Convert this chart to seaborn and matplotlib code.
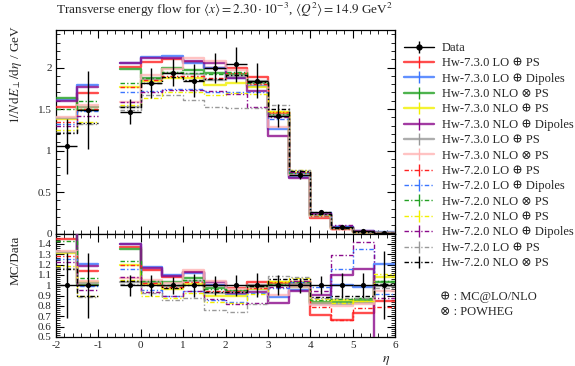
import numpy as np
import pandas as pd
import matplotlib
matplotlib.use("Agg")
import matplotlib.pyplot as plt
from matplotlib.lines import Line2D
from matplotlib.ticker import MultipleLocator, FixedLocator, FixedFormatter
import seaborn as sns

# ---- binning (pseudorapidity) ----
bin_lo = [-2.0, -1.5, -0.5, 0.0, 0.5, 1.0, 1.5, 2.0, 2.5, 3.0, 3.5, 4.0, 4.5, 5.0, 5.5]
bin_hi = [-1.5, -1.0, 0.0, 0.5, 1.0, 1.5, 2.0, 2.5, 3.0, 3.5, 4.0, 4.5, 5.0, 5.5, 6.0]

# ---- measurement ----
data_val = [1.05, 1.49, 1.47, 1.81, 1.94, 1.84, 1.99, 2.04, 1.84, 1.42, 0.71, 0.26, 0.075, 0.025, 0.010]
data_err = [0.33, 0.47, 0.15, 0.18, 0.16, 0.20, 0.18, 0.21, 0.21, 0.14, 0.05, 0.023, 0.009, 0.003, 0.0033]

# ---- generator predictions ----
hw73_lo_ps      = [1.52, 1.69, 2.01, 2.07, 2.10, 2.07, 2.00, 1.99, 1.89, 1.45, 0.72, 0.185, 0.050, 0.0183, 0.0085]
hw73_lo_dip     = [1.61, 1.79, 2.06, 2.13, 2.14, 2.05, 1.99, 1.87, 1.78, 1.26, 0.68, 0.212, 0.075, 0.0245, 0.0121]
hw73_nlo_pw_ps  = [1.63, 1.49, 1.98, 1.87, 2.00, 1.97, 1.93, 1.92, 1.81, 1.42, 0.70, 0.218, 0.063, 0.0215, 0.0103]
hw73_nlo_ps     = [1.38, 1.53, 1.76, 1.84, 1.87, 1.87, 1.79, 1.82, 1.77, 1.47, 0.73, 0.215, 0.064, 0.0210, 0.0108]
hw73_nlo_dip    = [1.60, 1.76, 2.05, 2.12, 2.12, 2.08, 2.05, 1.88, 1.72, 1.17, 0.67, 0.235, 0.0825, 0.0290, 0.0030]
hw73_lo_ps_b    = [1.39, 1.52, 1.52, 1.86, 1.93, 1.92, 1.85, 1.90, 1.84, 1.43, 0.72, 0.215, 0.0615, 0.0208, 0.0099]
hw73_nlo_pw_b   = [1.40, 1.55, 1.58, 1.91, 1.98, 2.11, 2.08, 1.97, 1.80, 1.28, 0.70, 0.210, 0.060, 0.0205, 0.0094]
hw72_lo_ps      = [1.35, 1.50, 1.76, 1.85, 1.90, 1.90, 1.88, 1.93, 1.80, 1.46, 0.74, 0.205, 0.050, 0.0195, 0.0079]
hw72_lo_dip     = [1.32, 1.48, 1.70, 1.72, 1.74, 1.74, 1.71, 1.71, 1.70, 1.38, 0.73, 0.255, 0.087, 0.0338, 0.0092]
hw72_nlo_pw_ps  = [1.50, 1.60, 1.82, 1.88, 1.95, 1.93, 1.92, 1.95, 1.82, 1.44, 0.73, 0.222, 0.065, 0.0220, 0.0104]
hw72_nlo_ps     = [1.25, 1.34, 1.55, 1.63, 1.71, 1.71, 1.67, 1.69, 1.68, 1.48, 0.76, 0.225, 0.062, 0.0213, 0.0111]
hw72_nlo_dip    = [1.29, 1.42, 1.59, 1.70, 1.73, 1.73, 1.72, 1.68, 1.52, 1.40, 0.74, 0.245, 0.097, 0.0355, 0.0088]
hw72_lo_ps_b    = [1.22, 1.32, 1.49, 1.67, 1.67, 1.61, 1.52, 1.51, 1.51, 1.55, 0.77, 0.228, 0.066, 0.0218, 0.0097]
hw72_nlo_pw_b   = [1.21, 1.33, 1.53, 1.82, 1.89, 1.85, 1.86, 1.91, 1.83, 1.50, 0.75, 0.230, 0.067, 0.0225, 0.0101]

OP = "\u2295"
OT = "\u2297"
series_labels = [
    f"Hw-7.3.0 LO {OP} PS", f"Hw-7.3.0 LO {OP} Dipoles", f"Hw-7.3.0 NLO {OT} PS",
    f"Hw-7.3.0 NLO {OP} PS", f"Hw-7.3.0 NLO {OP} Dipoles", f"Hw-7.3.0 LO {OP} PS ",
    f"Hw-7.3.0 NLO {OT} PS ",
    f"Hw-7.2.0 LO {OP} PS", f"Hw-7.2.0 LO {OP} Dipoles", f"Hw-7.2.0 NLO {OT} PS",
    f"Hw-7.2.0 NLO {OP} PS", f"Hw-7.2.0 NLO {OP} Dipoles", f"Hw-7.2.0 LO {OP} PS ",
    f"Hw-7.2.0 NLO {OT} PS ",
]
series_values = [hw73_lo_ps, hw73_lo_dip, hw73_nlo_pw_ps, hw73_nlo_ps, hw73_nlo_dip,
                 hw73_lo_ps_b, hw73_nlo_pw_b,
                 hw72_lo_ps, hw72_lo_dip, hw72_nlo_pw_ps, hw72_nlo_ps, hw72_nlo_dip,
                 hw72_lo_ps_b, hw72_nlo_pw_b]
series_colors = ["#ff2020", "#3a75ff", "#22a022", "#f2f000", "#8b0a8b", "#999999", "#ffb4b4",
                 "#ff2020", "#3a75ff", "#22a022", "#f2f000", "#8b0a8b", "#999999", "#000000"]
series_solid = [True] * 7 + [False] * 7

DASHDOT = (3.2, 1.6, 0.9, 1.6)


def step_frame(values_by_series):
    """Long-form table of step vertices; contiguous bins share a segment id."""
    rows = []
    for label, vals in values_by_series:
        seg = 0
        start = 0
        n = len(bin_lo)
        for i in range(n):
            last = (i == n - 1) or (bin_hi[i] != bin_lo[i + 1])
            if last:
                for j in range(start, i + 1):
                    rows.append((label, seg, bin_lo[j], vals[j]))
                rows.append((label, seg, bin_hi[i], vals[i]))
                seg += 1
                start = i + 1
    return pd.DataFrame(rows, columns=["series", "seg", "eta", "val"])


sns.set_theme(style="ticks")
plt.rcParams["font.family"] = ["Liberation Serif", "DejaVu Serif"]
plt.rcParams["mathtext.fontset"] = "stix"
plt.rcParams["xtick.direction"] = "in"
plt.rcParams["ytick.direction"] = "in"

W, H = 575, 366
fig = plt.figure(figsize=(W / 100, H / 100), dpi=100)
x0, x1 = 56, 395
y_top, y_mid, y_bot = 30, 233.5, 337
ax = fig.add_axes([x0 / W, 1 - y_mid / H, (x1 - x0) / W, (y_mid - y_top) / H])
axr = fig.add_axes([x0 / W, 1 - y_bot / H, (x1 - x0) / W, (y_bot - y_mid) / H], sharex=ax)

palette = dict(zip(series_labels, series_colors))
dash_map = {lab: ("" if s else DASHDOT) for lab, s in zip(series_labels, series_solid)}

ratio_values = [[v / d for v, d in zip(vals, data_val)] for vals in series_values]

for target, vals_list in ((ax, series_values), (axr, ratio_values)):
    pairs = list(zip(series_labels, vals_list))
    for solid, lw, alpha in ((False, 1.0, 1.0), (True, 1.7, 0.8)):
        sub = [(l, v) for (l, v), s in zip(pairs, series_solid) if s == solid]
        df = step_frame(sub)
        sns.lineplot(data=df, x="eta", y="val", hue="series", style="series",
                     units="seg", estimator=None, sort=False,
                     palette={l: palette[l] for l, _ in sub},
                     dashes={l: dash_map[l] for l, _ in sub},
                     drawstyle="steps-post", linewidth=lw, alpha=alpha,
                     legend=False, ax=target, zorder=3 if solid else 4)

# measurement with error bars
centers = [(a + b) / 2 for a, b in zip(bin_lo, bin_hi)]
half = [(b - a) / 2 for a, b in zip(bin_lo, bin_hi)]
ax.errorbar(centers, data_val, yerr=data_err, xerr=half, fmt="none",
            ecolor="black", elinewidth=1.0, capsize=0, zorder=10)
sns.scatterplot(x=centers, y=data_val, color="black", s=14, edgecolor="black",
                linewidth=0, ax=ax, zorder=11)
rel_err = [e / d for e, d in zip(data_err, data_val)]
ones = [1.0] * len(centers)
axr.errorbar(centers, ones, yerr=rel_err, xerr=half, fmt="none",
             ecolor="black", elinewidth=1.0, capsize=0, zorder=10)
sns.scatterplot(x=centers, y=ones, color="black", s=14, edgecolor="black",
                linewidth=0, ax=axr, zorder=11)

# axes ranges and ticks
ax.set_xlim(-2, 6)
ax.set_ylim(0, 2.453)
axr.set_ylim(0.5, 1.5)

for a in (ax, axr):
    a.xaxis.set_major_locator(MultipleLocator(1))
    a.xaxis.set_minor_locator(MultipleLocator(0.2))
    a.tick_params(which="both", top=True, right=True, direction="in", color="black")
    a.tick_params(which="major", length=5.5, width=0.8, labelsize=8, pad=3)
    a.tick_params(which="minor", length=3, width=0.6)
    for sp in a.spines.values():
        sp.set_linewidth(0.9)
        sp.set_color("black")
    a.set_xlabel("")
    a.set_ylabel("")

ax.tick_params(labelbottom=False)
ax.yaxis.set_major_locator(FixedLocator([0, 0.5, 1.0, 1.5, 2.0]))
ax.yaxis.set_major_formatter(FixedFormatter(["0", "0.5", "1", "1.5", "2"]))
ax.yaxis.set_minor_locator(MultipleLocator(0.1))

r_ticks = [0.5, 0.6, 0.7, 0.8, 0.9, 1.0, 1.1, 1.2, 1.3, 1.4]
axr.yaxis.set_major_locator(FixedLocator(r_ticks))
axr.yaxis.set_major_formatter(FixedFormatter(["0.5", "0.6", "0.7", "0.8", "0.9", "1",
                                              "1.1", "1.2", "1.3", "1.4"]))
axr.yaxis.set_minor_locator(MultipleLocator(0.02))
axr.tick_params(axis="y", which="major", length=5.5)
axr.tick_params(axis="y", which="minor", length=3)
axr.xaxis.set_major_formatter(FixedFormatter(["-2", "-1", "0", "1", "2", "3", "4", "5", "6"]))
axr.xaxis.set_major_locator(FixedLocator([-2, -1, 0, 1, 2, 3, 4, 5, 6]))

# labels
fig.text(x0 / W, 1 - 14 / H,
         r"Transverse energy flow for $\langle x\rangle = 2.30\cdot 10^{-3}$, "
         r"$\langle Q^2\rangle = 14.9$ GeV$^2$",
         ha="left", va="baseline", fontsize=9.5)
fig.text(16 / W, 1 - 25 / H, r"$1/N\,\mathrm{d}E_\perp/\mathrm{d}\eta$ / GeV",
         rotation=90, ha="center", va="top", fontsize=9.5)
fig.text(16 / W, 1 - 236 / H, "MC/Data", rotation=90, ha="center", va="top", fontsize=9.5)
fig.text(386 / W, 1 - 362 / H, r"$\eta$", ha="center", va="baseline", fontsize=10)

# legend
handles = [(Line2D([], [], color="black", lw=1.0),
            Line2D([], [], color="black", marker="o", markersize=3.5, ls="none"),
            Line2D([], [], color="black", marker="|", markersize=8, ls="none"))]
labels = ["Data"]
for lab, col, solid in zip(series_labels, series_colors, series_solid):
    ln = Line2D([], [], color=col, lw=1.7 if solid else 1.0, alpha=0.8 if solid else 1.0,
                ls="-" if solid else (0, DASHDOT))
    tick = Line2D([], [], color=col, marker="|", markersize=8, ls="none")
    handles.append((ln, tick))
    labels.append(lab.rstrip())
leg = ax.legend(handles, labels, loc="upper left", bbox_to_anchor=(404 / W, 1 - 42 / H),
                bbox_transform=fig.transFigure, frameon=False, fontsize=9,
                handlelength=2.4, handletextpad=0.6, labelspacing=0.27, borderaxespad=0,
                borderpad=0)

fig.text(440 / W, 1 - 300 / H, f"{OP} : MC@LO/NLO", ha="left", va="baseline", fontsize=9)
fig.text(440 / W, 1 - 315 / H, f"{OT} : POWHEG", ha="left", va="baseline", fontsize=9)

fig.savefig("out.png", dpi=100)
